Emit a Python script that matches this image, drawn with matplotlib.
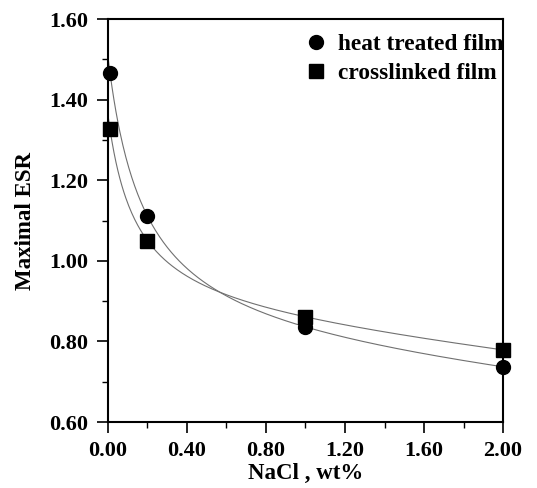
import numpy as np
import matplotlib
matplotlib.use("Agg")
import matplotlib.pyplot as plt
from matplotlib.ticker import MultipleLocator, FormatStrFormatter

# Data
nacl = [0.01, 0.2, 1.0, 2.0]
heat_treated = [1.467, 1.111, 0.836, 0.737]
crosslinked = [1.327, 1.050, 0.861, 0.779]
labels = ["heat treated film", "crosslinked film"]

plt.rcParams['font.family'] = ['Liberation Serif', 'DejaVu Serif']
plt.rcParams['font.weight'] = 'bold'

fig = plt.figure(figsize=(5.37, 4.88), dpi=100)
ax = fig.add_axes([0.2011, 0.1352, 0.7356, 0.8258])


def smooth_fit(x, y):
    """Least-squares curve a + b/(x+c) + d*x through the points."""
    x = np.asarray(x, float)
    y = np.asarray(y, float)
    best = None
    for c in np.linspace(0.05, 3.0, 3000):
        A = np.column_stack([np.ones_like(x), 1.0 / (x + c), x])
        coef, *_ = np.linalg.lstsq(A, y, rcond=None)
        r = np.sum((A @ coef - y) ** 2)
        if best is None or r < best[0]:
            best = (r, coef, c)
    _, (a, b, d), c = best
    return lambda t: a + b / (t + c) + d * t


xs = np.linspace(0.0, 2.0, 400)
for y in (heat_treated, crosslinked):
    f = smooth_fit(nacl, y)
    ax.plot(xs, f(xs), color='#707070', lw=0.8, zorder=2)

ax.plot(nacl, heat_treated, 'o', color='black', ms=10, label=labels[0], zorder=3, clip_on=False)
ax.plot(nacl, crosslinked, 's', color='black', ms=9.5, label=labels[1], zorder=3, clip_on=False)

ax.set_xlim(0, 2.0)
ax.set_ylim(0.6, 1.6)
ax.xaxis.set_major_locator(MultipleLocator(0.4))
ax.xaxis.set_minor_locator(MultipleLocator(0.2))
ax.yaxis.set_major_locator(MultipleLocator(0.2))
ax.yaxis.set_minor_locator(MultipleLocator(0.1))
ax.xaxis.set_major_formatter(FormatStrFormatter('%.2f'))
ax.yaxis.set_major_formatter(FormatStrFormatter('%.2f'))

for s in ax.spines.values():
    s.set_linewidth(1.5)

ax.tick_params(which='major', direction='out', length=8, width=1.2, labelsize=16, pad=6)
ax.tick_params(which='minor', direction='out', length=4, width=1.0)

for lab in ax.get_xticklabels() + ax.get_yticklabels():
    lab.set_fontweight('bold')

ax.set_xlabel('NaCl , wt%', fontsize=16.5, fontweight='bold', labelpad=1)
ax.set_ylabel('Maximal ESR', fontsize=16.5, fontweight='bold', labelpad=10)

leg = ax.legend(loc='upper right', bbox_to_anchor=(1.02, 0.98), frameon=False, fontsize=16.8,
                handletextpad=0.35, borderaxespad=0.0, borderpad=0.3,
                labelspacing=0.3, handlelength=1.2)
for t in leg.get_texts():
    t.set_fontweight('bold')

fig.savefig('out.png', dpi=100)
